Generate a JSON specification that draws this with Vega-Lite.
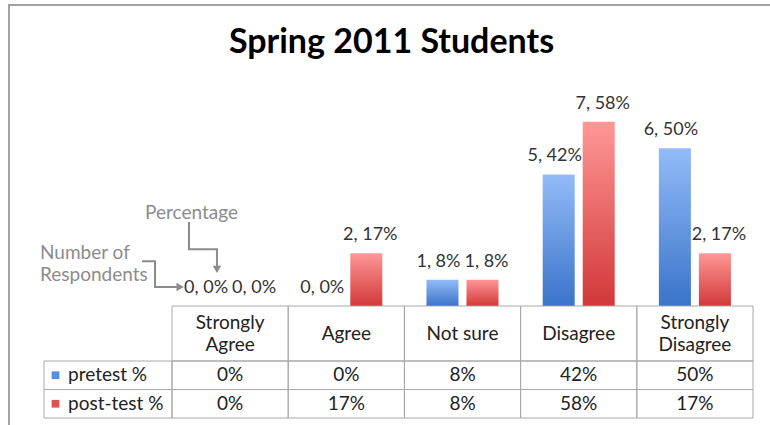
{
  "$schema": "https://vega.github.io/schema/vega-lite/v6.json",
  "autosize": "none",
  "padding": {"left": 9, "top": 5, "right": 0, "bottom": 0},
  "width": 765,
  "height": 425,
  "background": "white",
  "title": {"text": "Spring 2011 Students", "fontSize": 34, "fontWeight": "bold", "font": "Lato", "color": "#000000", "anchor": "middle", "baseline": "alphabetic", "offset": -82},
  "config": {
    "font": "Lato",
    "view": {"stroke": "#a3a3a3", "strokeWidth": 2}
  },
  "datasets": {
    "survey": [
      {"response": "Strongly Agree", "series": "pretest %", "n": 0, "pct": 0},
      {"response": "Strongly Agree", "series": "post-test %", "n": 0, "pct": 0},
      {"response": "Agree", "series": "pretest %", "n": 0, "pct": 0},
      {"response": "Agree", "series": "post-test %", "n": 2, "pct": 0.1667},
      {"response": "Not sure", "series": "pretest %", "n": 1, "pct": 0.0833},
      {"response": "Not sure", "series": "post-test %", "n": 1, "pct": 0.0833},
      {"response": "Disagree", "series": "pretest %", "n": 5, "pct": 0.4167},
      {"response": "Disagree", "series": "post-test %", "n": 7, "pct": 0.5833},
      {"response": "Strongly Disagree", "series": "pretest %", "n": 6, "pct": 0.5},
      {"response": "Strongly Disagree", "series": "post-test %", "n": 2, "pct": 0.1667}
    ],
    "columns": [
      {"response": "Strongly Agree", "header": "Strongly\nAgree"},
      {"response": "Agree", "header": "Agree"},
      {"response": "Not sure", "header": "Not sure"},
      {"response": "Disagree", "header": "Disagree"},
      {"response": "Strongly Disagree", "header": "Strongly\nDisagree"}
    ],
    "arrows": [
      {"arrow": "pct", "step": 1, "x": 0.146, "y": 0.266},
      {"arrow": "pct", "step": 2, "x": 0.146, "y": 0.18},
      {"arrow": "pct", "step": 3, "x": 0.387, "y": 0.18},
      {"arrow": "pct", "step": 4, "x": 0.387, "y": 0.125},
      {"arrow": "num", "step": 1, "x": -0.258, "y": 0.142},
      {"arrow": "num", "step": 2, "x": -0.146, "y": 0.142},
      {"arrow": "num", "step": 3, "x": -0.146, "y": 0.06},
      {"arrow": "num", "step": 4, "x": 0.05, "y": 0.06}
    ],
    "heads": [
      {"dir": "down", "x": 0.387, "y": 0.116},
      {"dir": "right", "x": 0.07, "y": 0.06}
    ],
    "notes": [
      {"text": "Percentage", "x": -0.232, "y": 0.294},
      {"text": "Number of", "x": -1.136, "y": 0.168},
      {"text": "Respondents", "x": -1.136, "y": 0.098}
    ]
  },
  "resolve": {"scale": {"x": "independent", "y": "independent", "xOffset": "independent", "color": "independent", "shape": "independent"}},
  "layer": [
    {
      "data": {"name": "survey"},
      "transform": [{"filter": "datum.series === 'pretest %'"}],
      "mark": {"type": "bar", "color": {"gradient": "linear", "x1": 0, "y1": 0, "x2": 0, "y2": 1, "stops": [{"offset": 0, "color": "#93bbf8"}, {"offset": 1, "color": "#3a74c9"}]}},
      "encoding": {
        "x": {"field": "response", "type": "nominal", "sort": null, "axis": null, "scale": {"domain": ["Strongly Agree", "Agree", "Not sure", "Disagree", "Strongly Disagree"], "range": [163, 744], "paddingInner": 0.38, "paddingOuter": 0.19}},
        "xOffset": {"field": "series", "type": "nominal", "scale": {"domain": ["pretest %", "post-test %"], "paddingInner": 0.2, "paddingOuter": 0}},
        "y": {"field": "pct", "type": "quantitative", "axis": null, "scale": {"domain": [0, 0.7], "range": [301, 80], "nice": false, "zero": true}}
      }
    },
    {
      "data": {"name": "survey"},
      "transform": [{"filter": "datum.series === 'post-test %'"}],
      "mark": {"type": "bar", "color": {"gradient": "linear", "x1": 0, "y1": 0, "x2": 0, "y2": 1, "stops": [{"offset": 0, "color": "#ff9797"}, {"offset": 1, "color": "#d23838"}]}},
      "encoding": {
        "x": {"field": "response", "type": "nominal", "sort": null, "axis": null, "scale": {"domain": ["Strongly Agree", "Agree", "Not sure", "Disagree", "Strongly Disagree"], "range": [163, 744], "paddingInner": 0.38, "paddingOuter": 0.19}},
        "xOffset": {"field": "series", "type": "nominal", "scale": {"domain": ["pretest %", "post-test %"], "paddingInner": 0.2, "paddingOuter": 0}},
        "y": {"field": "pct", "type": "quantitative", "axis": null, "scale": {"domain": [0, 0.7], "range": [301, 80], "nice": false, "zero": true}}
      }
    },
    {
      "data": {"name": "survey"},
      "transform": [{"calculate": "datum.n + ', ' + format(datum.pct, '.0%')", "as": "label"}],
      "mark": {"type": "text", "fontSize": 18, "color": "#333333", "baseline": "alphabetic", "dy": -13},
      "encoding": {
        "x": {"field": "response", "type": "nominal", "sort": null, "axis": null, "scale": {"domain": ["Strongly Agree", "Agree", "Not sure", "Disagree", "Strongly Disagree"], "range": [163, 744], "paddingInner": 0.38, "paddingOuter": 0.19}},
        "xOffset": {"field": "series", "type": "nominal", "scale": {"type": "point", "domain": ["pretest %", "post-test %"], "padding": 0.25}},
        "y": {"field": "pct", "type": "quantitative", "axis": null, "scale": {"domain": [0, 0.7], "range": [301, 80], "nice": false, "zero": true}},
        "text": {"field": "label", "type": "nominal"}
      }
    },
    {
      "data": {"name": "columns"},
      "mark": {"type": "rect", "filled": false, "stroke": "#a8a8a8", "strokeWidth": 1},
      "encoding": {
        "x": {"field": "response", "type": "nominal", "sort": null, "axis": null, "scale": {"domain": ["Strongly Agree", "Agree", "Not sure", "Disagree", "Strongly Disagree"], "range": [163, 744], "paddingInner": 0, "paddingOuter": 0}},
        "y": {"datum": "header", "type": "nominal", "axis": null, "scale": {"domain": ["header"], "range": [301, 356], "paddingInner": 0, "paddingOuter": 0}}
      }
    },
    {
      "data": {"name": "columns"},
      "transform": [{"filter": "indexof(datum.header, '\\n') < 0"}],
      "mark": {"type": "text", "fontSize": 19, "color": "#222222", "baseline": "middle"},
      "encoding": {
        "x": {"field": "response", "type": "nominal", "sort": null, "axis": null, "scale": {"domain": ["Strongly Agree", "Agree", "Not sure", "Disagree", "Strongly Disagree"], "range": [163, 744], "paddingInner": 0, "paddingOuter": 0}},
        "y": {"datum": "header", "type": "nominal", "axis": null, "scale": {"domain": ["header"], "range": [301, 356], "paddingInner": 0, "paddingOuter": 0}},
        "text": {"field": "header", "type": "nominal"}
      }
    },
    {
      "data": {"name": "columns"},
      "transform": [{"filter": "indexof(datum.header, '\\n') >= 0"}],
      "mark": {"type": "text", "fontSize": 19, "color": "#222222", "lineBreak": "\n", "lineHeight": 22, "baseline": "middle", "dy": -11},
      "encoding": {
        "x": {"field": "response", "type": "nominal", "sort": null, "axis": null, "scale": {"domain": ["Strongly Agree", "Agree", "Not sure", "Disagree", "Strongly Disagree"], "range": [163, 744], "paddingInner": 0, "paddingOuter": 0}},
        "y": {"datum": "header", "type": "nominal", "axis": null, "scale": {"domain": ["header"], "range": [301, 356], "paddingInner": 0, "paddingOuter": 0}},
        "text": {"field": "header", "type": "nominal"}
      }
    },
    {
      "data": {"name": "survey"},
      "mark": {"type": "rect", "filled": false, "stroke": "#a8a8a8", "strokeWidth": 1},
      "encoding": {
        "x": {"field": "response", "type": "nominal", "sort": null, "axis": null, "scale": {"domain": ["Strongly Agree", "Agree", "Not sure", "Disagree", "Strongly Disagree"], "range": [163, 744], "paddingInner": 0, "paddingOuter": 0}},
        "y": {"field": "series", "type": "nominal", "axis": null, "scale": {"domain": ["pretest %", "post-test %"], "range": [356, 413], "paddingInner": 0, "paddingOuter": 0}}
      }
    },
    {
      "data": {"name": "survey"},
      "mark": {"type": "text", "fontSize": 19, "color": "#222222", "baseline": "middle"},
      "encoding": {
        "x": {"field": "response", "type": "nominal", "sort": null, "axis": null, "scale": {"domain": ["Strongly Agree", "Agree", "Not sure", "Disagree", "Strongly Disagree"], "range": [163, 744], "paddingInner": 0, "paddingOuter": 0}},
        "y": {"field": "series", "type": "nominal", "axis": null, "scale": {"domain": ["pretest %", "post-test %"], "range": [356, 413], "paddingInner": 0, "paddingOuter": 0}},
        "text": {"field": "pct", "type": "quantitative", "format": ".0%"}
      }
    },
    {
      "data": {"name": "survey"},
      "transform": [{"filter": "datum.response === 'Strongly Agree'"}],
      "mark": {"type": "rect", "filled": false, "stroke": "#a8a8a8", "strokeWidth": 1},
      "encoding": {
        "x": {"datum": "label", "type": "nominal", "axis": null, "scale": {"domain": ["label"], "range": [35, 163], "paddingInner": 0, "paddingOuter": 0}},
        "y": {"field": "series", "type": "nominal", "axis": null, "scale": {"domain": ["pretest %", "post-test %"], "range": [356, 413], "paddingInner": 0, "paddingOuter": 0}}
      }
    },
    {
      "data": {"name": "survey"},
      "transform": [{"filter": "datum.response === 'Strongly Agree'"}],
      "mark": {"type": "text", "fontSize": 19, "color": "#222222", "baseline": "middle", "align": "left", "dx": 24},
      "encoding": {
        "x": {"datum": "label", "type": "nominal", "axis": null, "scale": {"domain": ["label"], "range": [35, 35], "paddingInner": 0, "paddingOuter": 0}},
        "y": {"field": "series", "type": "nominal", "axis": null, "scale": {"domain": ["pretest %", "post-test %"], "range": [356, 413], "paddingInner": 0, "paddingOuter": 0}},
        "text": {"field": "series", "type": "nominal"}
      }
    },
    {
      "data": {"name": "survey"},
      "transform": [{"filter": "datum.response === 'Strongly Agree'"}],
      "mark": {"type": "point", "shape": "square", "filled": true, "size": 60, "opacity": 1},
      "encoding": {
        "x": {"datum": "label", "type": "nominal", "axis": null, "scale": {"domain": ["label"], "range": [46.5, 46.5], "paddingInner": 0, "paddingOuter": 0}},
        "y": {"field": "series", "type": "nominal", "axis": null, "scale": {"domain": ["pretest %", "post-test %"], "range": [356, 413], "paddingInner": 0, "paddingOuter": 0}},
        "color": {"field": "series", "type": "nominal", "legend": null, "scale": {"domain": ["pretest %", "post-test %"], "range": ["#5b8ee0", "#de5252"]}}
      }
    },
    {
      "data": {"name": "arrows"},
      "mark": {"type": "line", "color": "#8c8c8c", "strokeWidth": 2, "strokeJoin": "miter"},
      "encoding": {
        "x": {"field": "x", "type": "quantitative", "axis": null, "scale": {"domain": [0, 5], "range": [163, 744], "nice": false, "zero": false}},
        "y": {"field": "y", "type": "quantitative", "axis": null, "scale": {"domain": [0, 0.7], "range": [301, 80], "nice": false, "zero": false}},
        "detail": {"field": "arrow", "type": "nominal"},
        "order": {"field": "step", "type": "quantitative"}
      }
    },
    {
      "data": {"name": "heads"},
      "mark": {"type": "point", "filled": true, "size": 70, "color": "#8c8c8c", "opacity": 1},
      "encoding": {
        "x": {"field": "x", "type": "quantitative", "axis": null, "scale": {"domain": [0, 5], "range": [163, 744], "nice": false, "zero": false}},
        "y": {"field": "y", "type": "quantitative", "axis": null, "scale": {"domain": [0, 0.7], "range": [301, 80], "nice": false, "zero": false}},
        "shape": {"field": "dir", "type": "nominal", "legend": null, "scale": {"domain": ["down", "right"], "range": ["triangle-down", "triangle-right"]}}
      }
    },
    {
      "data": {"name": "notes"},
      "mark": {"type": "text", "fontSize": 19, "color": "#8c8c8c", "align": "left", "baseline": "middle"},
      "encoding": {
        "x": {"field": "x", "type": "quantitative", "axis": null, "scale": {"domain": [0, 5], "range": [163, 744], "nice": false, "zero": false}},
        "y": {"field": "y", "type": "quantitative", "axis": null, "scale": {"domain": [0, 0.7], "range": [301, 80], "nice": false, "zero": false}},
        "text": {"field": "text", "type": "nominal"}
      }
    }
  ]
}
